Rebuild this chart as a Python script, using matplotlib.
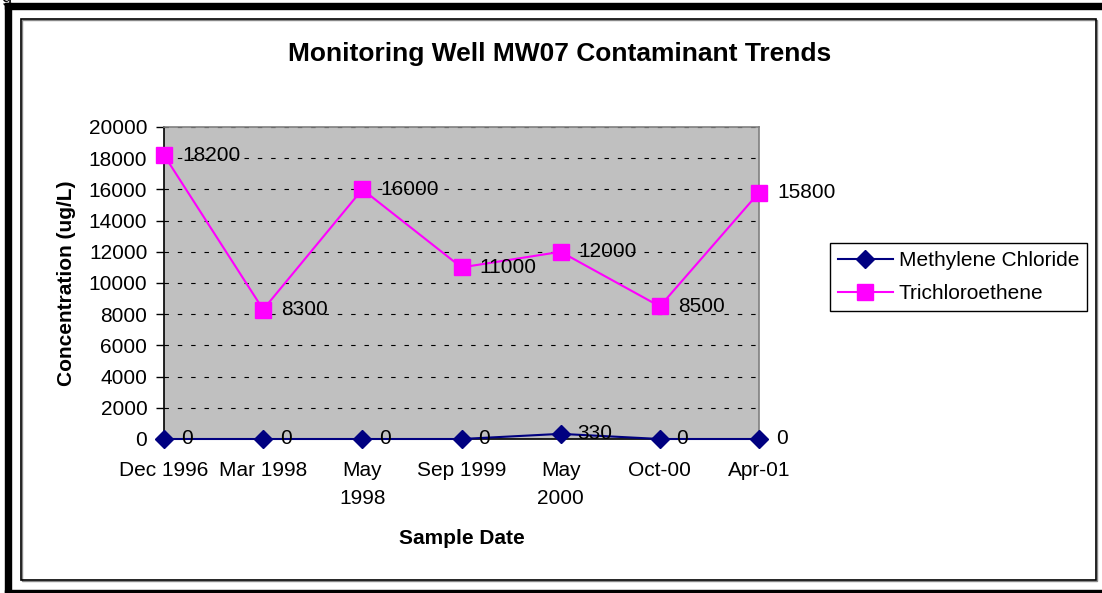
import matplotlib
matplotlib.use("Agg")
import matplotlib.pyplot as plt
from matplotlib.patches import Rectangle

plt.rcParams['font.family'] = ['Liberation Sans', 'DejaVu Sans']

dates = ["Dec 1996", "Mar 1998", "May\n1998", "Sep 1999", "May\n2000", "Oct-00", "Apr-01"]
methylene = [0, 0, 0, 0, 330, 0, 0]
tce = [18200, 8300, 16000, 11000, 12000, 8500, 15800]
yticks = list(range(0, 20001, 2000))

W, H = 1102, 593
fs = 15
fig = plt.figure(figsize=(W / 100, H / 100), dpi=100)

# outer black frame and inner chart border (pixel coords -> figure fraction)
def px_rect(x0, y0, x1, y1, **kw):
    fig.patches.append(Rectangle((x0 / W, 1 - y1 / H), (x1 - x0) / W, (y1 - y0) / H,
                                 transform=fig.transFigure, **kw))

px_rect(5, 3, 1110, 9, color="black")        # top bar
px_rect(5, 3, 11, 600, color="black")        # left bar
px_rect(5, 590, 1110, 600, color="black")    # bottom bar
px_rect(22, 20, 1097, 581, facecolor="none", edgecolor="#888888", lw=1.0)
px_rect(21, 19, 1096, 580, facecolor="none", edgecolor="black", lw=1.2)
fig.text(1 / W, 1 + 2 / H, "g", fontsize=13, va="center", ha="left")

ax = fig.add_axes([164 / W, 1 - 439 / H, (759 - 164) / W, (439 - 127) / H])
ax.set_facecolor("#C0C0C0")
x = list(range(len(dates)))

ax.plot(x, methylene, color="#000080", marker="D", markersize=9, lw=1.5,
        label="Methylene Chloride", clip_on=False, zorder=4)
ax.plot(x, tce, color="#FF00FF", marker="s", markersize=12, lw=1.5,
        label="Trichloroethene", clip_on=False, zorder=5)

for xi, v in zip(x, tce):
    ax.annotate(str(v), (xi, v), xytext=(13, 0), textcoords="offset points",
                va="center", ha="left", fontsize=fs, zorder=6)
for xi, v in zip(x, methylene):
    ax.annotate(str(v), (xi, v), xytext=(12, 0), textcoords="offset points",
                va="center", ha="left", fontsize=fs, zorder=6)

ax.set_xlim(0, len(dates) - 1)
ax.set_ylim(0, 20000)
ax.set_yticks(yticks)
ax.set_xticks(x)
ax.set_xticklabels(dates, fontsize=fs, linespacing=1.6)
ax.tick_params(axis="y", labelsize=fs, direction="out", length=5.5, width=1, pad=6.5)
ax.tick_params(axis="x", length=0, pad=16)
ax.grid(axis="y", color="black", linestyle=(0, (4, 8)), lw=0.8)
for s in ax.spines.values():
    s.set_color("#808080")
    s.set_linewidth(1.2)
ax.spines["left"].set_color("black")
ax.spines["bottom"].set_color("black")

ax.set_xlabel("Sample Date", fontsize=fs, fontweight="bold", labelpad=15)
ax.set_ylabel("Concentration (ug/L)", fontsize=fs, fontweight="bold", labelpad=9)
fig.text(560 / W, 1 - 54 / H, "Monitoring Well MW07 Contaminant Trends",
         fontsize=19, fontweight="bold", ha="center", va="center")

leg = ax.legend(loc="upper left", bbox_to_anchor=(830 / W, 1 - 243 / H),
                bbox_transform=fig.transFigure, fontsize=fs, frameon=True,
                fancybox=False, edgecolor="black", framealpha=1, handlelength=2.6,
                borderpad=0.4, labelspacing=0.65, handletextpad=0.3, borderaxespad=0)
leg.get_frame().set_linewidth(1.0)

fig.savefig("out.png", dpi=100)
